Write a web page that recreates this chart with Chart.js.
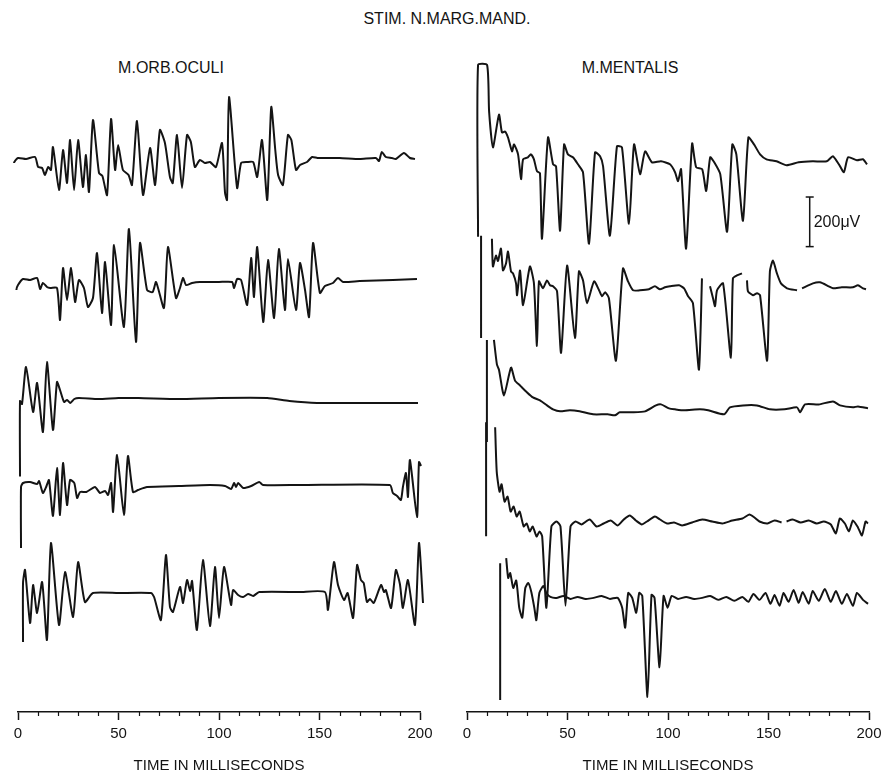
<!DOCTYPE html>
<html>
<head>
<meta charset="utf-8">
<script src="https://cdn.jsdelivr.net/npm/chart.js@4.4.1/dist/chart.umd.min.js"></script>
<style>
    body {
        margin: 0;
        width: 892px;
        height: 775px;
        position: relative;
        overflow: hidden;
        background: #fff;
        font-family: "Liberation Sans", Arial, sans-serif;
        color: #141414;
    }
    .lbl {
        position: absolute;
        font-size: 16px;
        white-space: nowrap;
        transform: translateX(-50%);
    }
    canvas { position: absolute; top: 0; }
</style>
</head>
<body>
<div class="lbl" style="left:447px;top:10px">STIM. N.MARG.MAND.</div>
<div class="lbl" style="left:171px;top:59px">M.ORB.OCULI</div>
<div class="lbl" style="left:630px;top:59px">M.MENTALIS</div>
<canvas id="leftChart" width="445" height="775" style="left:0"></canvas>
<canvas id="rightChart" width="447" height="775" style="left:445px"></canvas>
<script>
/* ================= DATA (ms, µV from baseline) ================= */

const xTicks = [0, 50, 100, 150, 200];
const minorTicks = [10, 20, 30, 40, 60, 70, 80, 90, 110, 120, 130, 140, 160, 170, 180, 190];
const axisTitle = "TIME IN MILLISECONDS";
const scaleBarValue = 200; // µV
const scaleBarLabel = "200\u03bcV";

// M.ORB.OCULI
const orbOculi1 = [[-2,-310],[-2,-20],[0,0],[4,-4],[8.5,4],[10,-36],[12,-40],[13.4,-68],[15,-36],[16.4,-48],[17.4,44],[20.4,-128],[22.4,32],[24.4,-100],[25.9,72],[27.9,-128],[29.9,72],[32.3,-116],[33.8,12],[35.3,-136],[37.3,152],[40.3,-60],[42,-72],[44.3,-148],[46.3,156],[48.3,-48],[49.8,52],[52.2,-48],[55,-68],[56.7,-108],[59.2,148],[62.2,-148],[65.7,40],[68.2,-108],[70.6,112],[73.1,60],[75.6,-76],[77,-100],[79.1,92],[81.6,-120],[84.1,92],[86,64],[88,-36],[90.5,-8],[93,-20],[95.5,-16],[98.5,-36],[101.5,60],[103,-140],[104,-168],[105,244],[109,-120],[111,-20],[114,-16],[117,-16],[119,-76],[121.4,72],[124,-168],[126,204],[128,32],[129.4,-68],[131.8,-108],[134.3,92],[136,72],[138.3,-48],[140.3,-28],[143.8,-16],[146.3,4],[149,0],[160,0],[170,-4],[178,0],[179.6,-12],[181,24],[183,4],[186,0],[188,-4],[192,20],[195,0],[197.5,-4]];
const orbOculi2 = [[-0.8,-412],[-0.8,-32],[0,-12],[2.5,12],[6,8],[9.5,16],[11,-28],[12.4,-4],[14.4,-20],[16,-24],[19.4,-24],[20.9,-152],[22.4,56],[24.4,-72],[26.4,56],[28.4,-80],[30.3,8],[32.8,-24],[34.8,-100],[37.3,-64],[39.3,116],[41.8,-124],[43.3,80],[46.3,-172],[47.8,148],[52.7,-180],[55.2,212],[58.7,-240],[60.7,156],[64.2,-32],[67,-40],[68.7,0],[72.6,-104],[74.6,140],[78.6,-64],[80.6,-24],[82.1,16],[83.6,-12],[86.6,-4],[90.5,0],[100,0],[106.5,0],[107.5,-24],[109,12],[111,8],[114,-92],[116,96],[117.4,-60],[119,140],[122,-160],[124.4,88],[127.4,-144],[129.8,132],[132.8,-112],[134.3,92],[138.3,-112],[140.3,76],[142.8,-32],[144.8,-140],[146.8,156],[150.2,-44],[152.7,-16],[156.7,-4],[159.2,16],[161.7,0],[170,4],[186.5,8],[198.5,12]];
const orbOculi3 = [[1,-310],[1,-8],[2,-20],[4,128],[7.5,-52],[9.5,64],[12.4,-132],[14.4,148],[17.4,-124],[19.4,68],[20.9,36],[22.9,-12],[24.4,-4],[26,-16],[28,0],[30.3,4],[40,0],[50,4],[60,4],[80,0],[100,4],[124,4],[135,-8],[148.8,-16],[170,-16],[199,-16]];
const orbOculi4 = [[1.5,-248],[1.5,-4],[2.5,12],[6,16],[9.5,8],[10.5,20],[12.4,-28],[14,-4],[15.4,24],[17.4,-120],[19.4,72],[20.9,-116],[22.4,92],[24.4,-76],[25.9,24],[28,12],[29.4,-48],[30.9,-24],[34,-24],[38.3,-4],[40.8,-28],[43.3,-20],[44.8,-36],[46.3,12],[47.3,-104],[49.3,124],[52.7,-116],[54.7,120],[57.2,-24],[59.7,-16],[64.2,-4],[80,0],[95.5,4],[103,0],[106,-12],[107.5,12],[108.5,-4],[109.5,12],[112,-8],[116,0],[120,16],[121.9,4],[140,4],[185,4],[186.5,-28],[188.6,-40],[190.5,-56],[191.5,-4],[193,52],[194,-44],[195,104],[198.5,-124],[199.5,96],[200.5,80]];
const orbOculi5 = [[2.5,-196],[2.5,40],[3.5,92],[6,-120],[7.5,32],[9.5,-80],[12,44],[14.4,-188],[16.4,200],[20.4,-128],[23.4,84],[27.4,-96],[29.9,124],[33.3,-36],[37.3,0],[50,0],[66.2,0],[67.7,-16],[71.1,-108],[73.6,152],[75.6,-56],[77.1,-76],[80.6,24],[82.1,-40],[84.1,52],[85.6,8],[86.6,48],[89,-148],[92,132],[95.5,-132],[98,104],[100,-100],[102.5,104],[106,-48],[107,12],[109.5,-8],[112,-16],[114.5,-4],[117,-12],[120,4],[140,4],[152.7,4],[154.2,-68],[157.2,124],[159.2,32],[162.2,-28],[164,0],[166.7,-100],[168.7,112],[170.6,52],[172,40],[173.6,-36],[175.1,-24],[177,-40],[180.6,32],[182.1,4],[183,12],[185.6,-60],[188,92],[190,36],[191.5,-60],[194,52],[197.5,-128],[199.5,200],[201.5,-40]];

// M.MENTALIS (null = pen lift)
const mentalis1 = [[5.5,-304],[5.5,388],[10,388],[11,200],[12.9,56],[15.9,188],[17.4,116],[18.9,120],[20.4,96],[22.4,40],[23.4,68],[25.4,28],[26.9,-72],[27.9,8],[30.3,16],[31.8,28],[33.3,8],[34.8,-40],[36.3,-48],[37.3,-312],[40.3,96],[42.8,-12],[44.3,-20],[46.3,-280],[48.3,68],[50.2,28],[52.7,16],[55.2,-12],[57.7,-44],[60.7,-332],[63.7,36],[66.2,20],[67.7,-20],[71.1,-300],[74.6,60],[77.1,56],[80.6,-252],[83.1,68],[86.1,-52],[88.6,40],[92,-4],[96.5,0],[101,-12],[103.5,-44],[105,-80],[106.5,-32],[109,-352],[112,72],[114,-24],[117,-32],[119,-120],[121,16],[123,-4],[126,-52],[129.4,-284],[132,68],[134,28],[137.3,-240],[140,96],[142.8,68],[145.8,28],[149,8],[154,0],[159,-16],[165,-4],[172,0],[179,0],[182,20],[185,-12],[187.5,-44],[189.6,16],[194,4],[197,8],[199,-12]];
const mentalis2 = [[7,-200],[7,212],[9,null],[12.4,200],[12.9,88],[14.4,132],[15.4,110],[16.9,160],[17.9,72],[19.4,100],[20.4,148],[21.9,68],[22.9,60],[24.4,20],[24.9,-28],[26.4,72],[27.9,-68],[31.3,88],[33.3,20],[34.8,-232],[35.8,28],[37.8,0],[39.8,32],[41.3,12],[42.8,8],[44.8,-12],[46.8,-260],[49.8,92],[53.7,-200],[55.7,68],[57.7,32],[59.7,-60],[63.2,28],[65.7,-8],[67.2,-32],[68.7,-16],[70.6,-40],[74.1,-292],[77.6,80],[80.1,28],[82.6,-8],[86,-8],[90.5,-4],[93.5,8],[96,-4],[98.5,4],[101,8],[105.5,12],[108,0],[110,-32],[112.4,-60],[115.4,-328],[116.9,40],[119,null],[120.9,8],[122.4,-40],[123.4,-72],[124.4,-8],[127.4,20],[131.3,-280],[132.3,40],[134.3,52],[136.8,60],[138,null],[139.3,32],[139.8,-12],[142.3,-28],[144.3,-20],[145.8,-28],[149.3,-292],[150.7,68],[152.2,112],[154.2,60],[156.2,20],[159.2,0],[164.2,-8],[165.5,null],[166.7,0],[172.1,20],[175.6,24],[180,8],[182.1,0],[186.5,4],[192,4],[194.5,12],[197,0],[198.5,-4]];
const mentalis3 = [[9.9,-128],[9.9,284],[11.5,null],[13.4,284],[14.9,184],[15.9,164],[18.4,60],[21.9,172],[23.9,120],[26.4,100],[29.9,72],[32.8,52],[36.3,40],[39.8,20],[42.8,4],[46.3,-4],[51.2,0],[56,-4],[62.7,-16],[70,-16],[73.6,-20],[76,-8],[82.6,-8],[88.6,-4],[94,20],[96.5,24],[100.5,8],[103.5,4],[108,0],[115.9,4],[120,0],[127.9,-16],[130.8,12],[137.3,20],[144.3,20],[150.7,4],[158,4],[164.2,12],[165.7,-8],[168.2,24],[175,24],[182.1,36],[185.6,20],[192,12],[194.5,16],[199.5,8]];
const mentalis4 = [[9.5,-60],[9.5,400],[12,null],[14,380],[14.8,200],[16.2,120],[17.2,150],[18.7,80],[20.2,100],[21.7,40],[23.2,60],[24.7,20],[26.2,40],[28.2,-20],[29.7,-8],[31.2,-40],[32.7,-20],[34.6,-60],[36.1,-40],[37.4,-60],[39.5,-348],[42,-20],[44.5,0],[46.5,-20],[49,-340],[51.5,-20],[54,0],[57,-12],[61,8],[64.5,-20],[68,-8],[71.5,4],[75,-16],[78,8],[81,24],[84,4],[87,-12],[89.5,0],[93.5,20],[96,8],[99.5,-8],[103,-4],[107,-16],[112,-4],[117,8],[122,0],[127,-8],[132,4],[137,12],[140.5,28],[143,16],[145.5,0],[149.5,-8],[153,4],[156.5,-4],[157.7,null],[159,0],[162,8],[166,-4],[170,4],[174,-8],[177.5,0],[181,-12],[183.5,-48],[185.5,12],[188,-8],[190,-40],[192,4],[194.5,-24],[196.5,-56],[198.3,0],[199.5,-8]];
const mentalis5 = [[16.5,-412],[16.5,140],[18,null],[19.5,160],[20.5,80],[21.5,100],[23,40],[24.5,70],[26,-40],[27.5,-80],[29,40],[30.5,60],[32,24],[33.5,-40],[34.5,-90],[36,20],[38,48],[39.5,20],[41.5,4],[44.5,0],[48,8],[51.5,-4],[55,4],[59,-4],[63,0],[67,8],[71,-4],[75,0],[77.2,-40],[78.7,-120],[80.2,20],[82.2,0],[84.2,-60],[85.7,20],[87.2,8],[89.8,-400],[91.8,12],[93.3,0],[95.8,-280],[97.8,8],[99.8,-40],[101.8,8],[105,-4],[109,4],[113,-4],[117,0],[121,8],[125,-8],[129,4],[133,-12],[137,4],[140,-16],[142.5,16],[145.5,-8],[148.5,20],[151,-24],[153,12],[155.5,-32],[157.5,20],[160,-16],[162.5,32],[165,-20],[167,24],[170,-24],[172,28],[175,-12],[178,36],[181,-16],[183.5,28],[186.5,-24],[189,16],[192,-32],[194,20],[197,-8],[199.5,-24]];

/* ================= LAYOUT ================= */

const FONT = "'Liberation Sans', Arial, sans-serif";
const INK = "#141414";
const UV_PER_PX = 4;
const AXIS_Y = 712;          // px of the time axis
const CANVAS_H = 775;
const Y_MAX = AXIS_Y * UV_PER_PX;

// vertical stacking of traces (µV above the time axis)
const orbOculiBase = [2216, 1720, 1252, 904, 476];
const mentalisBase = [2220, 1708, 1216, 768, 460];

const scaleBarTime = 170.5;
const scaleBarBottom = 1876;

/* ================= PLUGINS ================= */

const minorTickPlugin = {
    id: "minorTicks",
    afterDraw(chart) {
        const xs = chart.scales.x;
        const ctx = chart.ctx;
        const y = chart.chartArea.bottom;
        ctx.save();
        ctx.strokeStyle = INK;
        ctx.lineWidth = 1.2;
        minorTicks.forEach(t => {
            const px = Math.round(xs.getPixelForValue(t)) + 0.5;
            ctx.beginPath();
            ctx.moveTo(px, y);
            ctx.lineTo(px, y + 4);
            ctx.stroke();
        });
        ctx.restore();
    }
};

const scaleLabelPlugin = {
    id: "scaleLabel",
    afterDraw(chart) {
        if (chart.canvas.id !== "rightChart") return;
        const xs = chart.scales.x, ys = chart.scales.y;
        const ctx = chart.ctx;
        const px = xs.getPixelForValue(scaleBarTime);
        const py = (ys.getPixelForValue(scaleBarBottom) +
            ys.getPixelForValue(scaleBarBottom + scaleBarValue)) / 2;
        ctx.save();
        ctx.fillStyle = INK;
        ctx.font = "16px " + FONT;
        ctx.textBaseline = "middle";
        ctx.fillText(scaleBarLabel, px + 4, py + 1);
        ctx.restore();
    }
};

/* ================= CHARTS ================= */

function traceSets(traces, base) {
    return traces.map((tr, i) => ({
        data: tr.map(([t, v]) => ({ x: t, y: v === null ? null : v + base[i] })),
        borderColor: INK,
        borderWidth: 2,
        pointRadius: 0,
        tension: 0.2,
        spanGaps: false,
        clip: false,
    }));
}

function makeChart(id, datasets, padLeft, padRight) {
    return new Chart(document.getElementById(id), {
        type: "line",
        data: { datasets },
        options: {
            responsive: false,
            animation: false,
            devicePixelRatio: 1,
            layout: { padding: { left: padLeft, right: padRight, top: 0, bottom: 0 } },
            elements: { line: { capBezierPoints: false } },
            plugins: {
                legend: { display: false },
                tooltip: { enabled: false }
            },
            scales: {
                x: {
                    type: "linear",
                    min: 0,
                    max: 200,
                    afterBuildTicks: s => { s.ticks = xTicks.map(v => ({ value: v })); },
                    afterFit: s => { s.height = CANVAS_H - AXIS_Y; },
                    grid: {
                        drawOnChartArea: false,
                        drawTicks: true,
                        tickLength: 8,
                        tickColor: INK,
                        tickWidth: 1.5
                    },
                    border: { display: true, color: INK, width: 1.5 },
                    ticks: {
                        color: INK,
                        font: { size: 15, family: FONT },
                        padding: 5,
                        maxRotation: 0
                    },
                    title: {
                        display: true,
                        text: axisTitle,
                        color: INK,
                        font: { size: 15, family: FONT },
                        padding: { top: 0, bottom: 0 }
                    }
                },
                y: { display: false, min: 0, max: Y_MAX }
            }
        },
        plugins: [minorTickPlugin, scaleLabelPlugin]
    });
}

const leftSets = traceSets([orbOculi1, orbOculi2, orbOculi3, orbOculi4, orbOculi5], orbOculiBase);
const rightSets = traceSets([mentalis1, mentalis2, mentalis3, mentalis4, mentalis5], mentalisBase);

rightSets.push({
    data: [
        { x: scaleBarTime, y: scaleBarBottom },
        { x: scaleBarTime, y: scaleBarBottom + scaleBarValue }
    ],
    borderColor: INK,
    borderWidth: 1.5,
    pointStyle: "line",
    pointRadius: 4,
    pointBorderWidth: 1.5,
    pointBorderColor: INK,
    tension: 0,
    clip: false,
});

makeChart("leftChart", leftSets, 18, 25);
makeChart("rightChart", rightSets, 22, 23);
</script>
</body>
</html>
